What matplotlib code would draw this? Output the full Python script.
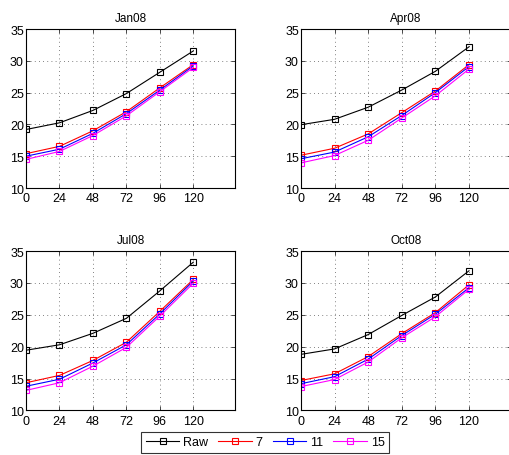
import numpy as np
import matplotlib.pyplot as plt

plt.rcParams["font.family"] = ["Liberation Sans", "DejaVu Sans"]

# Forecast hours on the x axis
hours = [0, 24, 48, 72, 96, 120]
titles = ["Jan08", "Apr08", "Jul08", "Oct08"]
series_names = ["Raw", "7", "11", "15"]
series_colors = ["black", "red", "blue", "magenta"]

# values: one row per series (Raw, 7, 11, 15)
jan08 = [
    [19.2, 20.25, 22.2, 24.85, 28.2, 31.55],
    [15.4, 16.55, 19.0, 22.0, 25.75, 29.4],
    [15.0, 16.1, 18.6, 21.7, 25.4, 29.2],
    [14.5, 15.75, 18.25, 21.35, 25.15, 28.95],
]
apr08 = [
    [19.95, 20.8, 22.7, 25.4, 28.35, 32.2],
    [15.15, 16.25, 18.5, 21.85, 25.25, 29.4],
    [14.6, 15.65, 18.05, 21.4, 25.0, 29.1],
    [13.95, 15.1, 17.5, 21.0, 24.5, 28.7],
]
jul08 = [
    [19.45, 20.3, 22.1, 24.45, 28.75, 33.25],
    [14.35, 15.5, 17.85, 20.7, 25.55, 30.55],
    [13.8, 14.9, 17.45, 20.3, 25.15, 30.3],
    [13.15, 14.35, 16.95, 19.9, 24.8, 29.95],
]
oct08 = [
    [18.8, 19.65, 21.9, 24.9, 27.8, 31.9],
    [14.7, 15.75, 18.45, 22.05, 25.35, 29.7],
    [14.2, 15.3, 18.05, 21.75, 25.1, 29.25],
    [13.75, 14.85, 17.6, 21.4, 24.7, 29.0],
]
panels = [jan08, apr08, jul08, oct08]

fig = plt.figure(figsize=(5.1, 4.56), dpi=100)

# axes rectangles in figure fractions (right column runs off the edge)
rects = [
    [0.051, 0.5855, 0.41, 0.3487],
    [0.590, 0.5855, 0.412, 0.3487],
    [0.051, 0.0976, 0.41, 0.3497],
    [0.590, 0.0976, 0.412, 0.3497],
]

lines = []
for rect, title, data in zip(rects, titles, panels):
    ax = fig.add_axes(rect)
    for vals, name, col in zip(data, series_names, series_colors):
        (ln,) = ax.plot(hours, vals, color=col, lw=0.8, marker="s",
                        markersize=5, markerfacecolor="none",
                        markeredgecolor=col, markeredgewidth=0.8, label=name)
        if title == "Jan08":
            lines.append(ln)
    ax.set_xlim(0, 150)
    ax.set_ylim(10, 35)
    ax.set_xticks(hours)
    ax.set_yticks([10, 15, 20, 25, 30, 35])
    ax.grid(True, color="0.35", linestyle=(0, (1, 4)), linewidth=0.6)
    ax.tick_params(direction="in", length=3, width=0.5, labelsize=9,
                   top=True, right=True)
    ax.tick_params(axis="x", pad=3)
    ax.tick_params(axis="y", pad=1.5)
    for sp in ax.spines.values():
        sp.set_linewidth(0.8)
    ax.set_title(title, fontsize=8.5, pad=6)

fig.legend(lines, series_names, loc="upper center", ncol=4,
           bbox_to_anchor=(0.52, 1 - 433 / 456), fontsize=9,
           frameon=True, fancybox=False, edgecolor="black",
           handlelength=2.7, columnspacing=0.8, handletextpad=0.3,
           borderpad=0.35, borderaxespad=0)
fig.legends[0].get_frame().set_linewidth(0.8)

plt.savefig("out.png", dpi=100)
